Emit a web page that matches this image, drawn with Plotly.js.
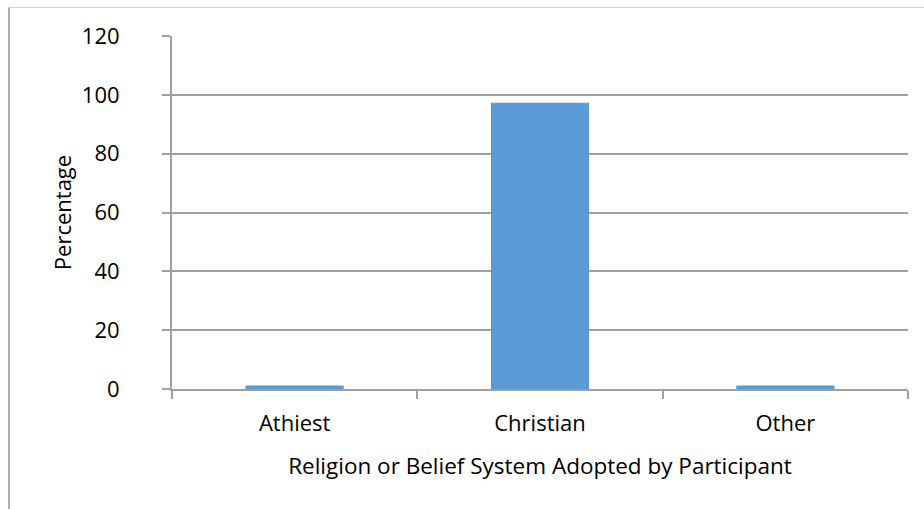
<!DOCTYPE html>
<html>
<head>
<meta charset="utf-8">
<script src="https://cdn.plot.ly/plotly-3.0.1.min.js"></script>
<style>
  html, body { margin: 0; padding: 0; background: #fff; }
  #wrap { position: relative; width: 924px; height: 509px; overflow: hidden; }
  #chart { position: absolute; left: 0; top: 0; width: 924px; height: 509px; }
  #frame { position: absolute; left: 8px; top: 7px; width: 1000px; height: 600px;
           border-top: 1px solid #d0d0d0; border-left: 2px solid #b0b0b0; pointer-events: none; }
</style>
</head>
<body>
<div id="wrap">
  <div id="chart"></div>
  <div id="frame"></div>
</div>
<script>
const categories = ["Athiest", "Christian", "Other"];
const percentages = [1.2, 97.3, 1.2];
const yTickValues = [0, 20, 40, 60, 80, 100, 120];

const FONT = "Open Sans, sans-serif";

const trace = {
  type: "bar",
  x: categories,
  y: percentages,
  marker: { color: "#5b9bd5" },
  hoverinfo: "x+y"
};

const layout = {
  width: 924,
  height: 509,
  margin: { l: 172, r: 16, t: 36, b: 120, pad: 0 },
  paper_bgcolor: "#ffffff",
  plot_bgcolor: "#ffffff",
  bargap: 0.6,
  showlegend: false,
  font: { family: FONT, size: 22, color: "#000000" },
  xaxis: {
    type: "category",
    showgrid: false,
    showline: true,
    linecolor: "#a0a0a0",
    linewidth: 2,
    ticks: "outside",
    tickson: "boundaries",
    ticklen: 8,
    tickwidth: 2,
    tickcolor: "#a0a0a0",
    ticklabelstandoff: 14,
    tickfont: { family: FONT, size: 22, color: "#000" },
    title: { text: "Religion or Belief System Adopted by Participant",
             font: { family: FONT, size: 22.5, color: "#000" }, standoff: 22 },
    fixedrange: true
  },
  yaxis: {
    range: [0, 120],
    tickvals: yTickValues,
    showgrid: true,
    gridcolor: "#a0a0a0",
    gridwidth: 2,
    zeroline: false,
    showline: true,
    linecolor: "#a0a0a0",
    linewidth: 2,
    ticks: "outside",
    ticklen: 8,
    tickwidth: 2,
    tickcolor: "#a0a0a0",
    ticklabelstandoff: 38,
    tickfont: { family: FONT, size: 22, color: "#000" },
    title: { text: "Percentage", font: { family: FONT, size: 22, color: "#000" }, standoff: 4 },
    fixedrange: true
  }
};

Plotly.newPlot("chart", [trace], layout, { displayModeBar: false, staticPlot: true });
</script>
</body>
</html>
